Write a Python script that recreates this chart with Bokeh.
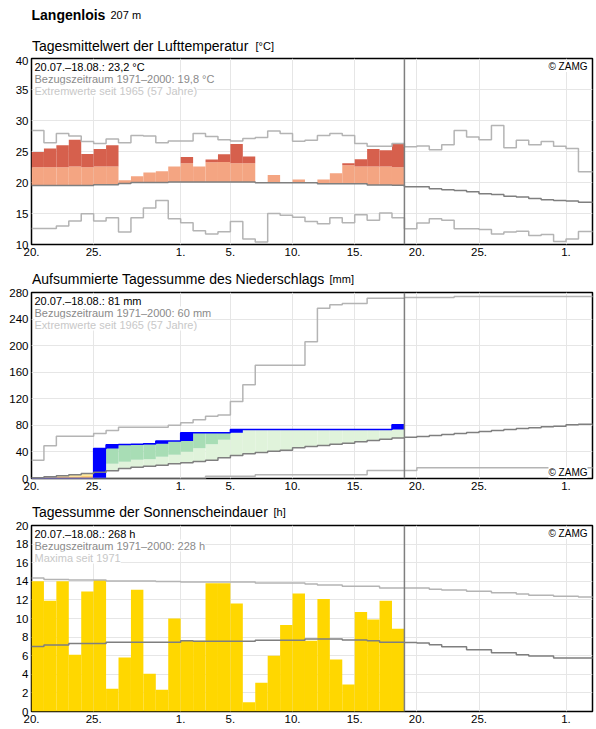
import numpy as np
from bokeh.plotting import figure
from bokeh.models import Span, Label, FixedTicker
from bokeh.layouts import column
from bokeh.core.properties import value
from bokeh.embed import file_html
from bokeh.resources import INLINE

FONT = "Liberation Sans"
NAN = float("nan")

# ---------------- axis / calendar ----------------
tick_days = [0, 5, 12, 16, 21, 26, 31, 36, 43]
tick_labels = ["20.", "25.", "1.", "5.", "10.", "15.", "20.", "25.", "1."]
X_END = 45.13
obs_end = 30  # 20.07.-18.08. observed days

# ---------------- temperature [°C] ----------------
temp_day = [24.9, 25.5, 26.0, 26.9, 24.6, 25.4, 26.0, 20.35, 21.0, 21.6, 21.8, 22.6, 24.1, 22.6, 23.7,
            24.55, 26.2, 24.2, 19.95, 21.2, 19.95, 20.5, 19.95, 20.5, 21.5, 23.1, 23.75, 25.4, 25.2, 26.2]
temp_band = [22.45, 22.45, 22.45, 22.6, 22.45, 22.6, 22.6, 22.7, 22.8, 22.8, 22.9, 22.9, 23.1, 23.1, 23.25,
             23.3, 23.1, 23.1, 23.0, 23.0, 23.0, 23.0, 23.0, 22.9, 22.9, 22.8, 22.6, 22.6, 22.6, 22.45]
temp_norm = [19.5, 19.5, 19.5, 19.5, 19.5, 19.65, 19.65, 19.85, 20.0, 20.0, 20.0, 20.1, 20.1, 20.1, 20.1,
             20.1, 20.1, 20.1, 19.95, 19.95, 19.95, 19.95, 19.95, 19.8, 19.8, 19.8, 19.8, 19.6, 19.6, 19.55,
             19.3, 19.3, 19.0, 18.85, 18.7, 18.5, 18.2, 18.05, 17.8, 17.65, 17.4, 17.2, 17.1, 17.0, 16.8, 16.8]
temp_max = [28.4, 26.4, 27.9, 27.5, 26.6, 26.3, 27.0, 26.4, 27.6, 27.5, 26.4, 26.7, 26.7, 27.9, 27.4,
            26.9, 26.7, 27.1, 27.25, 28.3, 27.9, 26.65, 26.8, 27.6, 27.9, 27.6, 26.3, 25.85, 25.85, 26.3,
            25.75, 25.9, 25.3, 26.1, 28.4, 27.35, 26.9, 29.2, 25.6, 26.8, 26.1, 26.6, 25.85, 25.5, 21.75, 21.75]
temp_min = [12.6, 12.6, 13.0, 13.8, 14.95, 13.8, 14.3, 12.0, 14.3, 15.9, 17.1, 14.15, 13.5, 12.2, 11.7,
            12.05, 13.7, 10.9, 10.4, 15.0, 14.7, 14.4, 13.7, 13.35, 14.3, 13.5, 14.8, 13.9, 15.1, 14.3,
            12.55, 13.45, 14.15, 13.9, 12.55, 12.55, 12.4, 11.7, 12.0, 12.15, 11.45, 11.6, 10.5, 10.9, 12.1, 12.1]

# ---------------- precipitation, cumulative [mm] ----------------
prec_cum = [0, 0, 0, 0, 0, 45.0, 50.7, 51.0, 51.5, 52.5, 56.5, 56.5, 68.9, 68.9, 68.9,
            68.9, 73.6, 73.6, 73.6, 73.6, 73.6, 73.6, 73.6, 73.6, 73.6, 73.6, 73.6, 73.6, 73.6, 80.8]
prec_band = [NAN] * 6 + [22.1, 25.1, 28.1, 29.1, 32.6, 35.6, 40.1, 45.7, 51.7, 58.2] + [NAN] * 14
prec_low = [0.5, 1.5, 2.5, 2.5, 3.5] + [NAN] * 25
prec_norm = [1.0, 2.5, 4.0, 5.5, 7.5, 9.5, 11.5, 15.0, 17.0, 18.6, 20.1, 22.1, 23.6, 25.6, 27.6,
             31.1, 34.6, 37.1, 39.1, 41.1, 42.6, 46.2, 48.2, 49.7, 51.7, 53.2, 55.2, 57.2, 59.2, 61.0,
             62.0, 63.2, 64.7, 66.2, 67.7, 69.2, 70.7, 72.3, 73.8, 75.3, 76.3, 77.8, 78.8, 80.8, 81.8, 81.8]
prec_max = [27.6, 49.2, 63.7, 63.7, 63.7, 67.7, 72.3, 77.3, 77.3, 77.3, 77.3, 80.3, 84.0, 88.3, 93.8,
            95.5, 115.9, 141.0, 170.6, 170.6, 170.6, 170.6, 205.7, 256.4, 261.4, 263.4, 263.4, 271.4, 271.4, 271.4,
            272.5, 272.5, 272.5, 272.5, 274.0, 274.0, 274.0, 274.0, 274.0, 274.0, 274.0, 274.0, 274.0, 274.0, 274.0, 274.0]
prec_min = [0.0] * 14 + [3.5] * 4 + [5.5] * 9 + [12.0] * 4 + [16.1] * 15

# ---------------- sunshine duration [h] ----------------
sun_day = [14.0, 11.9, 14.0, 6.1, 12.9, 14.15, 2.45, 5.8, 13.1, 4.05, 2.35, 10.0, 7.7, 7.6, 13.8,
           13.8, 11.6, 1.0, 3.1, 6.0, 9.3, 12.7, 7.6, 12.1, 5.6, 2.9, 10.7, 9.9, 11.9, 8.9]
sun_norm = [7.0, 7.15, 7.15, 7.3, 7.3, 7.3, 7.45, 7.45, 7.45, 7.45, 7.45, 7.45, 7.6, 7.55, 7.55,
            7.55, 7.55, 7.55, 7.65, 7.65, 7.65, 7.65, 7.8, 7.8, 7.8, 7.7, 7.7, 7.6, 7.45, 7.45,
            7.43, 7.36, 7.18, 6.97, 6.97, 6.64, 6.64, 6.32, 6.32, 6.1, 5.96, 5.96, 5.75, 5.75, 5.75, 5.75]
sun_max = [14.36, 14.2, 14.2, 14.15, 14.15, 14.15, 14.04, 14.04, 14.04, 14.04, 13.97, 13.97, 13.93, 13.93, 13.93,
           13.93, 13.93, 13.93, 13.82, 13.82, 13.82, 13.82, 13.7, 13.6, 13.6, 13.46, 13.46, 13.46, 13.29, 13.29,
           13.29, 13.29, 13.14, 13.07, 13.07, 12.93, 12.93, 12.78, 12.78, 12.64, 12.5, 12.5, 12.39, 12.39, 12.32, 12.32]

# ---------------- texts ----------------
station = "Langenlois"
altitude = "207 m"
titles = ["Tagesmittelwert der Lufttemperatur", "Aufsummierte Tagessumme des Niederschlags",
          "Tagessumme der Sonnenscheindauer"]
units = ["[°C]", "[mm]", "[h]"]

# ---------------- styles ----------------
C_NORM = "#7f7f7f"
C_EXT = "#b4b4b4"
C_GRID = "#e6e6e6"
LEFT, RIGHT = 31, 4


def strip(height):
    # strip frame spans page pixels x = 31..592, y measured from strip bottom
    s = figure(width=596, height=height, x_range=(LEFT, 596 - RIGHT), y_range=(0, height),
               output_backend="svg", toolbar_location=None, x_axis_type=None, y_axis_type=None,
               min_border_left=LEFT, min_border_right=RIGHT, min_border_top=0, min_border_bottom=0)
    s.outline_line_color = None
    s.grid.visible = False
    return s


def stext(s, x, y, text, size, bold=False):
    s.text(x=[x], y=[y], text=[text], text_font=value(FONT), text_font_size=value(size),
           text_font_style=value("bold" if bold else "normal"), text_color="black",
           text_baseline="alphabetic", text_align="left")


def base(height, top, y0, y1, yticks):
    p = figure(width=596, height=height, x_range=(0, X_END), y_range=(y0, y1),
               output_backend="svg", toolbar_location=None,
               min_border_left=LEFT, min_border_right=RIGHT, min_border_top=top, min_border_bottom=18)
    p.outline_line_color = "black"
    p.outline_line_width = 1.5
    p.xaxis.ticker = FixedTicker(ticks=tick_days)
    p.xaxis.major_label_overrides = {d: l for d, l in zip(tick_days, tick_labels)}
    p.yaxis.ticker = FixedTicker(ticks=yticks)
    for ax in p.axis:
        ax.axis_line_color = None
        ax.major_tick_line_color = None
        ax.minor_tick_line_color = None
        ax.major_tick_out = 0
        ax.major_tick_in = 0
        ax.major_label_text_font = FONT
        ax.major_label_text_font_size = "11.5px"
        ax.major_label_text_color = "black"
        ax.major_label_standoff = 3
    p.grid.grid_line_color = C_GRID
    p.grid.grid_line_width = 1
    return p


def steps(p, vals, color, width=1.5):
    xs = list(range(len(vals) + 1))
    ys = list(vals) + [vals[-1]]
    p.step(x=xs, y=ys, mode="after", line_color=color, line_width=width)


def label(p, x, y, text, size, color="black", xo=0, yo=0, align="left", bg=None):
    p.add_layout(Label(x=x, y=y, x_offset=xo, y_offset=yo, text=text, text_font=FONT,
                       text_font_size=size, text_color=color, text_align=align,
                       text_baseline="alphabetic", background_fill_color=bg))


def info(p, ytop, lines):
    cols = ["black", "#8a8a8a", "#c8c8c8"]
    for k, (t, c) in enumerate(zip(lines, cols)):
        label(p, 0, ytop, t, "11px", c, xo=3, yo=-(8.0 + 12 * k), bg="white")


def vline(p):
    p.add_layout(Span(location=obs_end, dimension="height", line_color=C_NORM, line_width=1.5))


days = np.arange(obs_end)

# ================= header + title 1 =================
sA = strip(56)
stext(sA, 31, 41.2, station, "14px", bold=True)
stext(sA, 110, 41.2, altitude, "11px")
stext(sA, 31.5, 10.8, titles[0], "14px")
stext(sA, 255, 10.8, units[0], "11px")

# ================= Panel 1: temperature =================
p1 = base(206, 2, 10, 40, list(range(10, 41, 5)))
t = np.array(temp_day)
b = np.array(temp_band)
n = np.array(temp_norm[:obs_end])
light_top = np.maximum(n, np.minimum(t, b))
dark_top = np.maximum(t, b)
p1.quad(left=days, right=days + 1, bottom=n, top=light_top, fill_color="#f4a582", line_color=None)
p1.quad(left=days, right=days + 1, bottom=b, top=dark_top, fill_color="#d6604d", line_color=None)
steps(p1, temp_max, C_EXT)
steps(p1, temp_min, C_EXT)
steps(p1, temp_norm, C_NORM)
vline(p1)
info(p1, 40, ["20.07.–18.08.: 23,2 °C", "Bezugszeitraum 1971–2000: 19,8 °C",
              "Extremwerte seit 1965 (57 Jahre)"])
label(p1, X_END, 40, "© ZAMG", "10px", "black", xo=-5, yo=-8, align="right", bg="white")

# ================= title 2 =================
sB = strip(26)
stext(sB, 31.5, 9.5, titles[1], "14px")
stext(sB, 329, 9.5, units[1], "11px")

# ================= Panel 2: precipitation =================
p2 = base(208, 4, 0, 280, list(range(0, 281, 40)))
c = np.array(prec_cum, dtype=float)
pn = np.array(prec_norm[:obs_end], dtype=float)
band = np.array(prec_band, dtype=float)
low = np.array(prec_low, dtype=float)
band_f = np.where(np.isnan(band), np.inf, band)
low_f = np.where(np.isnan(low), -np.inf, low)
sur = c > pn
lg_top = np.where(sur, np.minimum(c, band_f), pn)
dg_bot = np.where(sur & (c > band_f), band_f, c)
p2.quad(left=days, right=days + 1, bottom=pn, top=lg_top, fill_color="#e0f3db", line_color=None)
p2.quad(left=days, right=days + 1, bottom=dg_bot, top=c, fill_color="#a8ddb5", line_color=None)
dfc = c < pn
y_bot = np.where(dfc, np.maximum(c, low_f), pn)
o_top = np.where(dfc & (low_f > c), low_f, c)
p2.quad(left=days, right=days + 1, bottom=y_bot, top=pn, fill_color="#feeaa0", line_color=None)
p2.quad(left=days, right=days + 1, bottom=c, top=o_top, fill_color="#fdbb4f", line_color=None)
prev = np.concatenate([[0.0], c[:-1]])
p2.quad(left=days, right=days + 1, bottom=prev, top=c, fill_color="#0000ff", line_color=None)
steps(p2, prec_cum, "#0000ff", 1.5)
steps(p2, prec_max, C_EXT)
steps(p2, prec_min, C_EXT)
steps(p2, prec_norm, C_NORM)
vline(p2)
info(p2, 280, ["20.07.–18.08.: 81 mm", "Bezugszeitraum 1971–2000: 60 mm",
               "Extremwerte seit 1965 (57 Jahre)"])
label(p2, X_END, 0, "© ZAMG", "10px", "black", xo=-5, yo=6, align="right", bg="white")

# ================= title 3 =================
sC = strip(25)
stext(sC, 31.5, 9.5, titles[2], "14px")
stext(sC, 273, 9.5, units[2], "11px")

# ================= Panel 3: sunshine =================
p3 = base(208, 4, 0, 20, list(range(0, 21, 2)))
p3.quad(left=days, right=days + 1, bottom=0, top=sun_day, fill_color="#ffd700", line_color=None)
steps(p3, sun_max, C_EXT)
steps(p3, sun_norm, C_NORM)
vline(p3)
info(p3, 20, ["20.07.–18.08.: 268 h", "Bezugszeitraum 1971–2000: 228 h", "Maxima seit 1971"])
label(p3, X_END, 20, "© ZAMG", "10px", "black", xo=-5, yo=-8, align="right", bg="white")

layout = column(sA, p1, sB, p2, sC, p3, spacing=0)
open("out.html", "w").write(file_html(layout, INLINE))
